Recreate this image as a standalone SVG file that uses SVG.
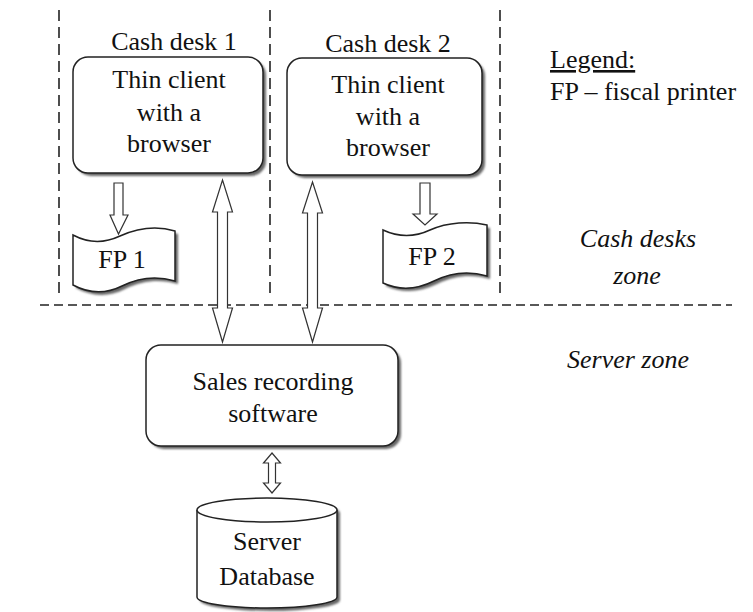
<svg xmlns="http://www.w3.org/2000/svg" width="753" height="612" viewBox="0 0 753 612">
<defs>
<style>
text{font-family:"Liberation Serif","Times New Roman",serif;fill:#111;font-size:26px}
.c{text-anchor:middle}
.i{font-style:italic}
.shape{fill:#fff;stroke:#222;stroke-width:1.5}
.sh{fill:#666;stroke:none;filter:url(#blur)}
.dash{stroke:#222;stroke-width:1.6;fill:none}
.arrow{fill:#fff;stroke:#333;stroke-width:1.2}
</style>
<filter id="blur" x="-10%" y="-10%" width="120%" height="120%"><feGaussianBlur stdDeviation="0.8"/></filter>
</defs>
<rect width="753" height="612" fill="#fff"/>
<g id="zones">
<line class="dash" x1="59" y1="10" x2="59" y2="298" stroke-dasharray="11 6"/>
<line class="dash" x1="270" y1="10" x2="270" y2="298" stroke-dasharray="11 6"/>
<line class="dash" x1="500" y1="10" x2="500" y2="298" stroke-dasharray="11 6"/>
<line class="dash" x1="40" y1="305" x2="732" y2="305" stroke-dasharray="9 5"/>
</g>
<g id="connectors">
<path class="arrow" d="M114,183 H123 V215 H128 L118.5,234 L110,215 H114 Z"/>
<path class="arrow" d="M420,183 H430 V214 H437 L425,225 L413,214 H420 Z"/>
<path class="arrow" d="M222.5,180 L232.5,212 H227.5 V308 H232.5 L222.5,342 L212.5,308 H217.5 V212 H212.5 Z"/>
<path class="arrow" d="M312.5,182 L322.5,213 H317.5 V308 H322.5 L312.5,342 L302.5,308 H307.5 V213 H302.5 Z"/>
<path class="arrow" d="M272,453 L280.5,463 H275.5 V483 H280.5 L272,493 L263.5,483 H268.5 V463 H263.5 Z"/>
</g>
<g id="cashdesk1">
<text class="c" x="174" y="50">Cash desk 1</text>
<rect class="sh" x="76" y="60" width="190" height="116" rx="15"/>
<rect class="shape" x="73" y="57" width="190" height="116" rx="15"/>
<text class="c" x="169" y="88">Thin client</text>
<text class="c" x="169" y="121">with a</text>
<text class="c" x="169" y="152">browser</text>
</g>
<g id="cashdesk2">
<text class="c" x="388" y="52">Cash desk 2</text>
<rect class="sh" x="290" y="61" width="195" height="117" rx="15"/>
<rect class="shape" x="287" y="58" width="195" height="117" rx="15"/>
<text class="c" x="388" y="93">Thin client</text>
<text class="c" x="388" y="125">with a</text>
<text class="c" x="388" y="156">browser</text>
</g>
<g id="fp1">
<path class="sh" transform="translate(3,3)" d="M73,235 C88,243 103,244 120,236 C138,228 158,226 175,231 L175,281 C158,276 140,277 122,286 C104,295 88,293 73,285 Z"/>
<path class="shape" d="M73,235 C88,243 103,244 120,236 C138,228 158,226 175,231 L175,281 C158,276 140,277 122,286 C104,295 88,293 73,285 Z"/>
<text class="c" x="122" y="268">FP 1</text>
</g>
<g id="fp2">
<path class="sh" transform="translate(3,3)" d="M383,230 C398,237 413,238 430,230 C448,222 470,221 487,225 L487,276 C470,271 452,272 434,281 C416,290 398,290 383,283 Z"/>
<path class="shape" d="M383,230 C398,237 413,238 430,230 C448,222 470,221 487,225 L487,276 C470,271 452,272 434,281 C416,290 398,290 383,283 Z"/>
<text class="c" x="432" y="265">FP 2</text>
</g>
<g id="sales">
<rect class="sh" x="149" y="348" width="252" height="101" rx="15"/>
<rect class="shape" x="146" y="345" width="252" height="101" rx="15"/>
<text class="c" x="273" y="390">Sales recording</text>
<text class="c" x="273" y="422">software</text>
</g>
<g id="database">
<path class="sh" transform="translate(3,3)" d="M197,510 A70,12 0 0 1 337,510 V597 A70,11 0 0 1 197,597 Z"/>
<path class="shape" d="M197,510 A70,12 0 0 1 337,510 V597 A70,11 0 0 1 197,597 Z"/>
<path class="shape" fill="none" d="M197,510 A70,12 0 0 0 337,510"/>
<text class="c" x="267" y="550">Server</text>
<text class="c" x="267" y="585">Database</text>
</g>
<g id="legend">
<text x="550" y="68" text-decoration="underline">Legend:</text>
<text x="550" y="100">FP – fiscal printer</text>
<text class="c i" x="638" y="247">Cash desks</text>
<text class="c i" x="637" y="284">zone</text>
<text class="c i" x="628" y="368">Server zone</text>
</g>
</svg>
